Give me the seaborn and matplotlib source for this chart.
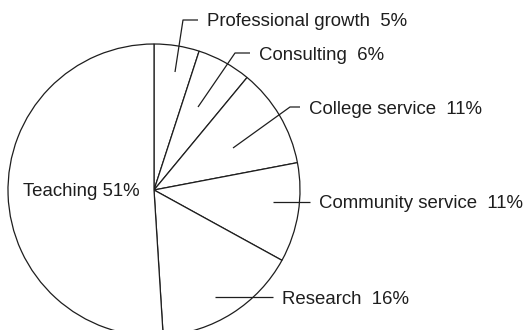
import matplotlib
matplotlib.use("Agg")
import matplotlib.pyplot as plt
import seaborn as sns

# ---- data ----
categories = ["Professional growth", "Consulting", "College service",
              "Community service", "Research", "Teaching"]
shares = [5, 6, 11, 11, 16, 51]
label_texts = ["Professional growth  5%", "Consulting  6%", "College service  11%",
               "Community service  11%", "Research  16%", "Teaching 51%"]

sns.set_theme(style="white")
plt.rcParams["font.family"] = ["Liberation Sans", "DejaVu Sans"]

W, H = 526, 330
fig = plt.figure(figsize=(W / 100, H / 100), dpi=100)
ax = fig.add_axes([0, 0, 1, 1])

ink = "#1e1e1e"
cx, cy, r = 154, H - 190, 146

wedges, _ = ax.pie(shares, startangle=90, counterclock=False,
                   center=(cx, cy), radius=r, frame=True,
                   colors=["white"] * len(shares),
                   wedgeprops=dict(edgecolor=ink, linewidth=0.9))
ax.set_xlim(0, W)
ax.set_ylim(0, H)
ax.set_aspect("equal")
ax.set_axis_off()

# leader-line layout in pixel coordinates (x, y from top): anchor, elbow, end
leaders = [
    [(175, 72), (183, 20), (198, 20)],
    [(198, 107), (235, 53), (250, 53)],
    [(233, 148), (290, 107), (300, 107)],
    [(273, 202), (310, 202)],
    [(215, 297), (273, 297)],
]
fs = 13.4
for pts, txt in zip(leaders, label_texts[:5]):
    xs = [p[0] for p in pts]
    ys = [H - p[1] for p in pts]
    ax.plot(xs, ys, color=ink, linewidth=0.9, solid_capstyle="butt")
    ax.text(xs[-1] + 9, ys[-1], txt, fontsize=fs, color=ink,
            ha="left", va="center_baseline")

ax.text(23, H - 190, label_texts[5], fontsize=fs, color=ink,
        ha="left", va="center_baseline")

fig.savefig("out.png", dpi=100, facecolor="white")
